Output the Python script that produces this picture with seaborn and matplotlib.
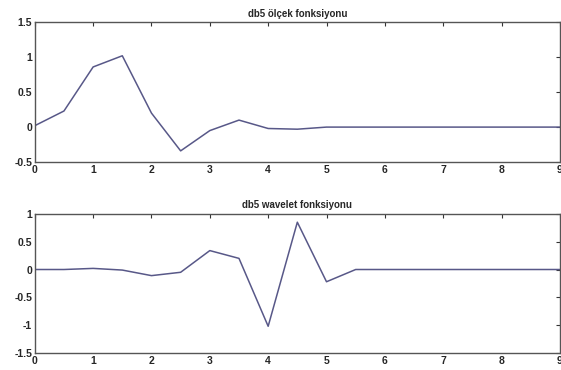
import numpy as np
import pandas as pd
import matplotlib
matplotlib.use('Agg')
import matplotlib.pyplot as plt
import seaborn as sns

# sample points (step 0.5 from 0 to 9)
t = [0, 0.5, 1, 1.5, 2, 2.5, 3, 3.5, 4, 4.5, 5, 5.5, 6, 6.5, 7, 7.5, 8, 8.5, 9]
phi = [0.02, 0.23, 0.86, 1.02, 0.2, -0.34, -0.05, 0.1, -0.02, -0.03, 0.0,
       0.0, 0.0, 0.0, 0.0, 0.0, 0.0, 0.0, 0.0]
psi = [0.0, 0.0, 0.02, -0.01, -0.11, -0.05, 0.34, 0.2, -1.02, 0.85, -0.22,
       0.0, 0.0, 0.0, 0.0, 0.0, 0.0, 0.0, 0.0]

titles = ['db5 ölçek fonksiyonu', 'db5 wavelet fonksiyonu']
yticks_top = [-0.5, 0, 0.5, 1, 1.5]
yticks_bot = [-1.5, -1, -0.5, 0, 0.5, 1]
xticks = [0, 1, 2, 3, 4, 5, 6, 7, 8, 9]

df = pd.DataFrame({'t': t, 'phi': phi, 'psi': psi})

sns.set_style('white')
plt.rcParams['font.family'] = ['Liberation Sans', 'DejaVu Sans']

fig = plt.figure(figsize=(5.61, 3.70), dpi=100)
ax1 = fig.add_axes([0.062, 0.562, 0.936, 0.378])
ax2 = fig.add_axes([0.062, 0.046, 0.936, 0.376])

line_color = '#585888'

def style_axis(ax, title, yticks):
    ax.set_xlim(0, 9)
    ax.set_ylim(yticks[0], yticks[-1])
    ax.set_xticks(xticks)
    ax.set_yticks(yticks)
    ax.set_xticklabels([str(v) for v in xticks], fontsize=7.5, fontweight='bold')
    ax.set_yticklabels([f'{v:g}' for v in yticks], fontsize=7.5, fontweight='bold')
    ax.tick_params(direction='in', length=3, width=0.8, color='#333333',
                   top=True, right=True, pad=2)
    ax.set_xlabel('')
    ax.set_ylabel('')
    ax.set_title(title, fontsize=7, fontweight='bold', pad=4)
    for s in ax.spines.values():
        s.set_color('#555555')
        s.set_linewidth(1.0)

sns.lineplot(data=df, x='t', y='phi', ax=ax1, color=line_color, linewidth=1.1)
style_axis(ax1, titles[0], yticks_top)

sns.lineplot(data=df, x='t', y='psi', ax=ax2, color=line_color, linewidth=1.1)
style_axis(ax2, titles[1], yticks_bot)

fig.savefig('out.png', dpi=100)
